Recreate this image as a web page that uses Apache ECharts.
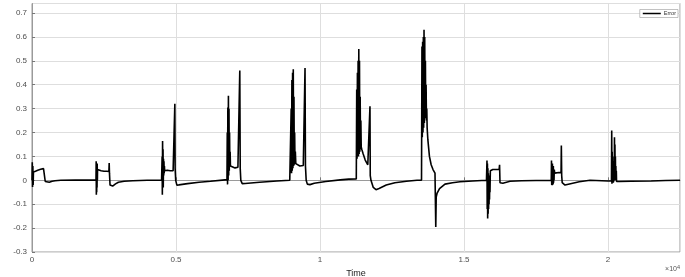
<!DOCTYPE html>
<html>
<head>
<meta charset="utf-8">
<script src="https://cdn.jsdelivr.net/npm/echarts@6/dist/echarts.min.js"></script>
<style>
html,body{margin:0;padding:0;background:#fff;}
#chart{width:685px;height:277px;}
</style>
</head>
<body>
<div id="chart"></div>
<script>
// x tick values (Time) and y tick range
const xTicks = [0, 5000, 10000, 15000, 20000];
const yTicks = [-0.3, -0.2, -0.1, 0, 0.1, 0.2, 0.3, 0.4, 0.5, 0.6, 0.7];
const seriesName = 'Error';

// [time, error] samples
const event1 = [[0,0.0],[10,0.076],[20,-0.028],[30,0.06],[40,-0.02],[50,0.035],[60,0.03],[80,0.036],[120,0.038],[200,0.042],[300,0.046],[400,0.049],[440,0.05],[450,0.048],[460,-0.005],[490,-0.012],[520,-0.011],[600,-0.008],[700,-0.004],[800,-0.002],[1000,0.0],[1500,0.001],[2000,0.001]];
const event2 = [[2222,0.001],[2228,0.08],[2234,-0.06],[2240,0.07],[2246,-0.05],[2252,0.06],[2258,-0.03],[2264,0.07],[2270,0.0],[2276,0.045],[2300,0.04],[2400,0.04],[2500,0.038],[2600,0.038],[2670,0.037],[2680,0.072],[2690,0.03],[2710,-0.02],[2750,-0.025],[2800,-0.024],[2900,-0.015],[3000,-0.008],[3200,-0.004],[3500,-0.002],[4000,0.0],[4500,0.001]];
const event3 = [[4510,0.001],[4518,0.1],[4526,-0.06],[4534,0.165],[4542,0.0],[4550,0.13],[4558,-0.03],[4566,0.09],[4574,0.02],[4582,0.08],[4590,0.03],[4598,0.06],[4606,0.04],[4620,0.045],[4700,0.042],[4800,0.04],[4900,0.04],[4950,0.042],[4960,0.32],[4970,0.05],[4990,0.0],[5030,-0.02],[5100,-0.019],[5400,-0.014],[5800,-0.008],[6200,-0.004],[6700,0.002]];
const event4 = [[6770,0.002],[6780,0.2],[6790,-0.017],[6800,0.305],[6810,0.0],[6820,0.354],[6830,0.02],[6840,0.3],[6850,0.04],[6860,0.2],[6870,0.06],[6880,0.12],[6890,0.06],[6910,0.06],[6950,0.055],[7050,0.052],[7150,0.055],[7200,0.06],[7215,0.46],[7230,0.05],[7250,0.0],[7300,-0.014],[7400,-0.013],[7900,-0.008],[8500,-0.003],[8950,0.0]];
const event5 = [[8990,0.0],[9000,0.3],[9012,0.03],[9024,0.42],[9036,0.04],[9048,0.45],[9060,0.05],[9072,0.465],[9084,0.06],[9096,0.35],[9108,0.065],[9120,0.2],[9132,0.07],[9144,0.12],[9160,0.07],[9200,0.064],[9300,0.06],[9420,0.062],[9470,0.065],[9480,0.47],[9495,0.06],[9520,0.0],[9560,-0.016],[9650,-0.018],[9800,-0.012],[10200,-0.005],[10700,0.002],[11000,0.005],[11260,0.006]];
const event6 = [[11265,0.006],[11275,0.38],[11287,0.09],[11299,0.45],[11311,0.1],[11323,0.5],[11335,0.1],[11347,0.55],[11359,0.11],[11371,0.5],[11383,0.12],[11395,0.35],[11407,0.13],[11419,0.25],[11431,0.14],[11450,0.13],[11500,0.11],[11570,0.085],[11660,0.065],[11720,0.06],[11735,0.31],[11745,0.02],[11770,0.0],[11850,-0.03],[11944,-0.039],[12050,-0.034],[12300,-0.02],[12600,-0.01],[13000,-0.004],[13368,0.0],[13525,0.001]];
const event7 = [[13530,0.001],[13540,0.56],[13552,0.18],[13564,0.58],[13576,0.2],[13588,0.6],[13600,0.22],[13612,0.63],[13624,0.24],[13636,0.6],[13648,0.26],[13660,0.5],[13672,0.26],[13684,0.4],[13696,0.25],[13708,0.3],[13720,0.22],[13745,0.17],[13800,0.1],[13860,0.065],[13924,0.045],[13993,0.03],[14010,0.028],[14020,-0.195],[14035,-0.07],[14063,-0.055],[14150,-0.035],[14340,-0.016],[14600,-0.01],[14861,-0.006],[15300,-0.003],[15780,0.0]];
const event8 = [[15790,0.0],[15798,0.083],[15806,-0.12],[15814,0.07],[15822,-0.16],[15830,0.05],[15838,-0.14],[15846,0.03],[15854,-0.12],[15862,0.02],[15870,-0.1],[15878,0.01],[15886,-0.08],[15894,0.0],[15902,-0.05],[15915,0.04],[15940,0.045],[16000,0.045],[16100,0.045],[16220,0.046],[16235,0.065],[16250,-0.01],[16285,-0.017],[16350,-0.012],[16597,-0.004],[17000,-0.002],[17500,-0.001],[18030,0.0]];
const event9 = [[18038,0.083],[18046,-0.02],[18054,0.06],[18062,-0.021],[18070,0.07],[18078,-0.02],[18086,0.05],[18094,-0.015],[18102,0.06],[18110,-0.01],[18118,0.04],[18126,0.0],[18134,0.045],[18150,0.03],[18200,0.035],[18300,0.033],[18370,0.032],[18380,0.146],[18392,0.02],[18410,-0.01],[18507,-0.02],[18700,-0.014],[19000,-0.006],[19375,0.0],[20000,-0.003],[20120,-0.003]];
const event10 = [[20129,0.208],[20137,-0.014],[20145,0.12],[20153,-0.01],[20161,0.1],[20169,-0.01],[20177,0.08],[20185,-0.01],[20193,0.06],[20201,-0.005],[20209,0.05],[20217,0.0],[20225,0.18],[20233,0.0],[20241,0.15],[20249,0.0],[20257,0.1],[20265,0.0],[20273,0.06],[20281,0.0],[20289,0.04],[20297,-0.005],[20320,-0.007],[20400,-0.005],[20800,-0.004],[21500,-0.003],[22000,-0.001],[22500,0.0]];

const samples = [].concat(event1, event2, event3, event4, event5, event6, event7, event8, event9, event10);

const chart = echarts.init(document.getElementById('chart'), null, {renderer: 'canvas'});
const labelColor = '#4d4d4d';
const font = 'Liberation Sans, Arial, sans-serif';
chart.setOption({
  animation: false,
  backgroundColor: '#fff',
  grid: {left: 32, right: 5, top: 3.5, bottom: 25, show: true, borderColor: '#9a9a9a', borderWidth: 1, containLabel: false, outerBoundsMode: 'none'},
  legend: {
    show: true, right: 7, top: 9.5,
    data: [seriesName],
    icon: 'rect', itemWidth: 18, itemHeight: 1.5, itemGap: 2,
    padding: [1, 2, 1, 3],
    borderColor: '#999', borderWidth: 0.6, backgroundColor: '#fff',
    textStyle: {fontSize: 5.5, color: '#333', fontFamily: font, padding: [0,0,0,-2]}
  },
  xAxis: {
    type: 'value', min: 0, max: 22500, interval: 5000,
    name: 'Time', nameLocation: 'middle', nameGap: 12,
    nameTextStyle: {fontSize: 9, color: '#222', fontFamily: font},
    axisLine: {show: true, lineStyle: {color: '#9a9a9a', width: 1}},
    axisTick: {show: true, inside: true, length: 3, lineStyle: {color: '#777'}},
    axisLabel: {show: true, margin: 4, fontSize: 8, color: labelColor, fontFamily: font, showMaxLabel: false,
      formatter: v => xTicks.indexOf(v) >= 0 ? String(+(v / 10000).toFixed(1)) : ''},
    splitLine: {show: true, lineStyle: {color: '#dedede', width: 1}}
  },
  yAxis: {
    type: 'value', min: -0.3, max: 0.74, interval: 0.1,
    name: 'Error', nameLocation: 'middle', nameGap: 24,
    nameTextStyle: {fontSize: 9, color: '#222', fontFamily: font},
    axisLine: {show: true, lineStyle: {color: '#9a9a9a', width: 1}},
    axisTick: {show: true, inside: true, length: 3, lineStyle: {color: '#777'}},
    axisLabel: {show: true, margin: 5, fontSize: 8, color: labelColor, fontFamily: font, showMaxLabel: false,
      formatter: v => {
        const r = +v.toFixed(1);
        return yTicks.indexOf(r) >= 0 && Math.abs(v - r) < 1e-6 ? String(r) : '';
      }},
    splitLine: {show: true, lineStyle: {color: '#dedede', width: 1}}
  },
  graphic: [{
    type: 'text', right: 5, top: 264,
    style: {
      text: '{a|×10}{b|4}',
      rich: {
        a: {fontSize: 7, fill: '#555', fontFamily: font},
        b: {fontSize: 5.5, fill: '#555', verticalAlign: 'top', padding: [0,0,5,0], fontFamily: font}
      }
    }
  }],
  series: [{
    name: seriesName, type: 'line', data: samples,
    showSymbol: false, symbol: 'none', sampling: null,
    lineStyle: {color: '#000', width: 1.6},
    itemStyle: {color: '#000'},
    z: 5
  }]
});
</script>
</body>
</html>
